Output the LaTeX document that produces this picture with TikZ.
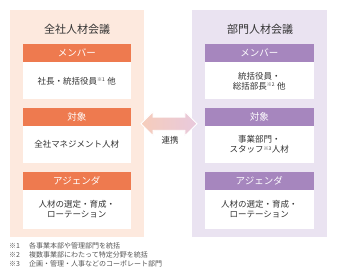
\documentclass[tikz,border=0pt]{standalone}
\usepackage{fontspec}
\setmainfont{Noto Sans CJK JP}
\usepackage{xcolor}
\usetikzlibrary{positioning, shapes.arrows}
\definecolor{zenBg}{HTML}{FDE9DE}
\definecolor{zenHead}{HTML}{EE7A4F}
\definecolor{bumonBg}{HTML}{EAE3F1}
\definecolor{bumonHead}{HTML}{A686BE}
\definecolor{arrL}{HTML}{F6CDBB}
\definecolor{arrR}{HTML}{E8C9DD}
\definecolor{txt}{HTML}{333333}
\definecolor{fn}{HTML}{555555}
\newcommand{\chu}[1]{\textsuperscript{\fontsize{5}{5}\selectfont ※#1}}
\tikzset{
    panel/.style={
        minimum width=134.5pt,
        minimum height=227.5pt,
        inner sep=0pt
    },
    kaigi/.style={text=txt, font=\fontsize{11}{13}\selectfont},
    head/.style={
        minimum width=108.5pt,
        minimum height=18pt,
        inner sep=0pt,
        text=white,
        font=\fontsize{9.5}{11}\selectfont
    },
    body/.style={
        fill=white,
        minimum width=108.5pt,
        minimum height=37pt,
        inner sep=0pt,
        align=center,
        text=txt,
        font=\fontsize{8.5}{10}\selectfont
    },
    renkei/.style={
        double arrow,
        double arrow head extend=5.5pt,
        minimum height=56pt,
        minimum width=23pt,
        inner xsep=0pt,
        inner ysep=6.2pt,
        left color=arrL,
        right color=arrR,
        draw=white,
        line width=0.8pt
    },
    note/.style={anchor=west, inner sep=0pt, text=fn, font=\fontsize{7}{8}\selectfont},
}

\begin{document}
\begin{tikzpicture}[x=1pt, y=1pt]
    \useasboundingbox (0,0) rectangle (337,-274);

    % left: company-wide meeting
    \node[panel, fill=zenBg]           (zen)   at (76.75,-123.25) {};
    \node[kaigi]                        (zenT)  at (77,-29) {全社人材会議};
    \node[head, fill=zenHead]           (zm)    at (76.75,-53) {メンバー};
    \node[body]                         (zmB)   [below=0pt of zm] {社長・統括役員\chu{1} 他};
    \node[head, fill=zenHead]           (zt)    [below=8pt of zmB] {対象};
    \node[body]                         (ztB)   [below=0pt of zt] {全社マネジメント人材};
    \node[head, fill=zenHead]           (za)    [below=8pt of ztB] {アジェンダ};
    \node[body, minimum height=39pt]    (zaB)   [below=0pt of za] {人材の選定・育成・\\ローテーション};

    % right: division meeting
    \node[panel, fill=bumonBg]         (bu)    at (259.5,-123.25) {};
    \node[kaigi]                        (buT)   at (260,-29) {部門人材会議};
    \node[head, fill=bumonHead]         (bm)    at (259.25,-53) {メンバー};
    \node[body]                         (bmB)   [below=0pt of bm] {統括役員・\\総括部長\chu{2} 他};
    \node[head, fill=bumonHead]         (bt)    [below=8pt of bmB] {対象};
    \node[body]                         (btB)   [below=0pt of bt] {事業部門・\\スタッフ\chu{3}人材};
    \node[head, fill=bumonHead]         (ba)    [below=8pt of btB] {アジェンダ};
    \node[body, minimum height=39pt]    (baB)   [below=0pt of ba] {人材の選定・育成・\\ローテーション};

    % link
    \node[renkei]                       (ya)    at (169,-123.7) {};
    \node[text=txt, font=\fontsize{8.5}{10}\selectfont] (yaT) at (170,-140.5) {連携};

    % notes
    \node[note] (n1) at (9,-246) {\makebox[20pt][l]{※1}各事業本部や管理部門を統括};
    \node[note] (n2) at (9,-255) {\makebox[20pt][l]{※2}複数事業部にわたって特定分野を統括};
    \node[note] (n3) at (9,-264) {\makebox[20pt][l]{※3}企画・管理・人事などのコーポレート部門};
\end{tikzpicture}
\end{document}
